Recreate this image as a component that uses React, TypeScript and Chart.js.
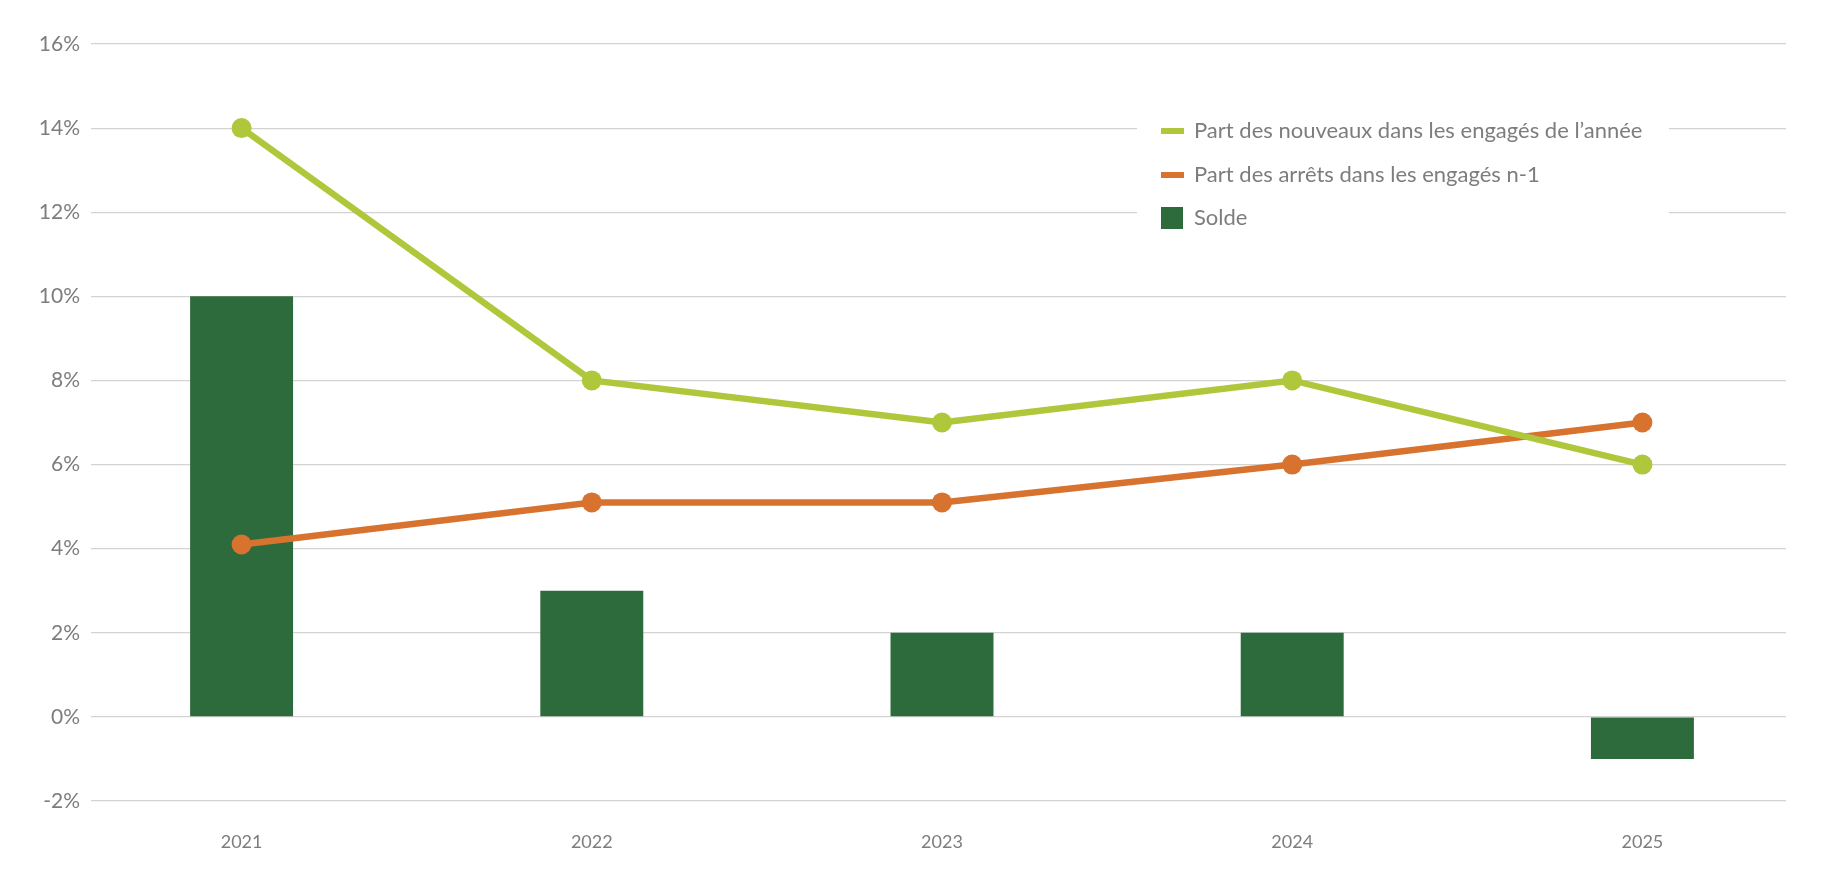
import React, { useEffect, useRef } from "react";
import { Chart, registerables } from "chart.js";

Chart.register(...registerables);

const years = ["2021", "2022", "2023", "2024", "2025"];
const partNouveaux = [14, 8, 7, 8, 6];
const partArrets = [4.1, 5.1, 5.1, 6.0, 7.0];
const solde = [10, 3, 2, 2, -1];
const yTicks = [-2, 0, 2, 4, 6, 8, 10, 12, 14, 16];

const LIME = "#afc83b";
const ORANGE = "#d7732f";
const DARK = "#2e6b3c";
const TEXT = "#7d7d7d";
const FONT = "Lato, 'Noto Sans', sans-serif";

const legendPlugin = {
  id: "customLegend",
  afterDraw(chart: any) {
    const ctx = chart.ctx;
    const ds = chart.data.datasets;
    ctx.save();
    ctx.fillStyle = "#ffffff";
    ctx.fillRect(1137, 104, 532, 138);
    const rows = [131, 175, 218];
    ds.forEach((d: any, i: number) => {
      const y = rows[i];
      ctx.fillStyle = d.legendColor;
      if (d.type === "bar") {
        ctx.fillRect(1161, y - 11, 22, 22);
      } else {
        ctx.fillRect(1161, y - 3, 23, 6);
      }
      ctx.fillStyle = TEXT;
      ctx.font = `22px ${FONT}`;
      ctx.textBaseline = "middle";
      ctx.textAlign = "left";
      ctx.fillText(d.label, 1194, y);
    });
    ctx.restore();
  },
};

export default function App() {
  const ref = useRef<HTMLCanvasElement | null>(null);
  useEffect(() => {
    if (!ref.current) return;
    const chart = new Chart(ref.current, {
      type: "bar",
      data: {
        datasets: [
          {
            type: "line",
            label: "Part des nouveaux dans les engagés de l’année",
            data: partNouveaux.map((v, i) => ({ x: i, y: v })),
            borderColor: LIME,
            backgroundColor: LIME,
            legendColor: LIME,
            borderWidth: 6.5,
            pointRadius: 10,
            pointBorderWidth: 0,
            pointBackgroundColor: LIME,
          } as any,
          {
            type: "line",
            label: "Part des arrêts dans les engagés n-1",
            data: partArrets.map((v, i) => ({ x: i, y: v })),
            borderColor: ORANGE,
            backgroundColor: ORANGE,
            legendColor: ORANGE,
            borderWidth: 6.5,
            pointRadius: 10,
            pointBorderWidth: 0,
            pointBackgroundColor: ORANGE,
          } as any,
          {
            type: "bar",
            label: "Solde",
            data: solde.map((v, i) => ({ x: i, y: v })),
            backgroundColor: DARK,
            legendColor: DARK,
            categoryPercentage: 1,
            barPercentage: 0.294,
          } as any,
        ],
      },
      options: {
        animation: false,
        responsive: true,
        maintainAspectRatio: false,
        layout: { padding: { top: 44, right: 48, left: 0, bottom: 0 } },
        plugins: {
          legend: { display: false },
          tooltip: { enabled: false },
        },
        scales: {
          x: {
            type: "linear",
            offset: false,
            min: -0.43,
            max: 4.41,
            grid: { display: false },
            border: { display: false },
            ticks: {
              stepSize: 1,
              includeBounds: false,
              padding: 22,
              color: TEXT,
              font: { family: FONT, size: 18 },
              callback: (v: any) => {
                const n = Number(v);
                return Number.isInteger(n) && years[n] ? years[n] : "";
              },
            },
            afterFit: (s: any) => {
              s.height = 77;
            },
          },
          y: {
            min: -2,
            max: 16,
            afterBuildTicks: (s: any) => {
              s.ticks = yTicks.map((v) => ({ value: v }));
            },
            grid: { color: "#d3d3d3", lineWidth: 1.2, drawTicks: false },
            border: { display: false },
            ticks: {
              padding: 11,
              color: TEXT,
              font: { family: FONT, size: 21 },
              callback: (v: any) => `${v}%`,
            },
            afterFit: (s: any) => {
              s.width = 91;
            },
          },
        },
      } as any,
      plugins: [legendPlugin],
    });
    return () => chart.destroy();
  }, []);
  return (
    <div
      style={{
        position: "absolute",
        top: 0,
        left: 0,
        width: 1834,
        height: 878,
        background: "#ffffff",
      }}
    >
      <canvas ref={ref} />
    </div>
  );
}
